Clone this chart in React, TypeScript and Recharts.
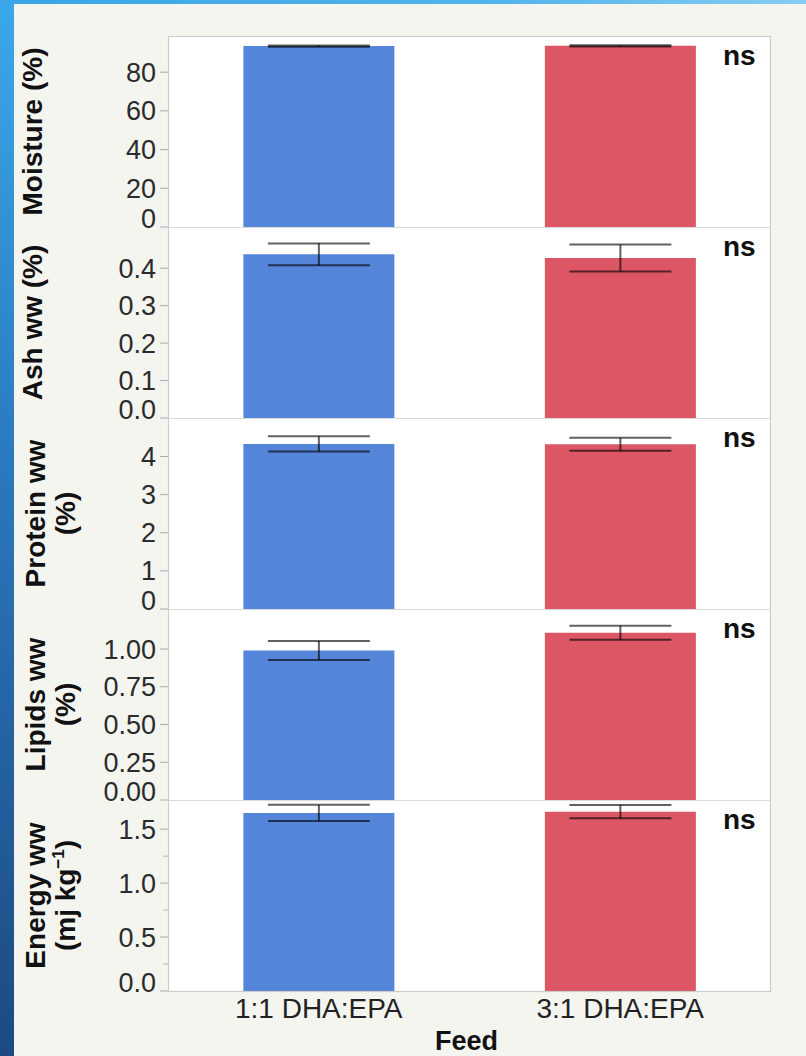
import React from 'react';
import { BarChart, Bar, XAxis, YAxis, ErrorBar, Cell } from 'recharts';

const FEEDS = ['1:1 DHA:EPA', '3:1 DHA:EPA'];
const BAR_COLORS = ['#5585d9', '#dc5666'];

const MOISTURE = [93.5, 93.6];
const MOISTURE_ERR = [0.3, 0.3];
const ASH = [0.437, 0.427];
const ASH_ERR = [0.029, 0.036];
const PROTEIN = [4.33, 4.32];
const PROTEIN_ERR = [0.2, 0.17];
const LIPIDS = [0.99, 1.108];
const LIPIDS_ERR = [0.063, 0.046];
const ENERGY = [1.65, 1.662];
const ENERGY_ERR = [0.075, 0.062];

const MOISTURE_TICKS = [0, 20, 40, 60, 80];
const ASH_TICKS = [0, 0.1, 0.2, 0.3, 0.4];
const PROTEIN_TICKS = [0, 1, 2, 3, 4];
const LIPIDS_TICKS = [0, 0.25, 0.5, 0.75, 1.0];
const ENERGY_TICKS = [0, 0.5, 1.0, 1.5];
const ENERGY_MINOR_TICKS = [0.25, 0.75, 1.25];

const TITLES = [
  ['Moisture (%)'],
  ['Ash ww (%)'],
  ['Protein ww', '(%)'],
  ['Lipids ww', '(%)'],
  ['Energy ww', '(mj kg|−1|)'],
];
const SIG = ['ns', 'ns', 'ns', 'ns', 'ns'];
const X_TITLE = 'Feed';

const FONT = '"Liberation Sans", Arial, Helvetica, sans-serif';

const PLOT_LEFT = 168;
const PLOT_RIGHT = 771;
const PLOT_TOP = 36;
const PANEL_H = 191;
const XAXIS_H = 65;
const EXTRA_BOTTOM = 14;

type Panel = {
  values: number[];
  errs: number[];
  domain: [number, number];
  ticks: number[];
  minor: number[];
  decimals: number;
};

const PANELS: Panel[] = [
  { values: MOISTURE, errs: MOISTURE_ERR, domain: [0, 98.7], ticks: MOISTURE_TICKS, minor: [], decimals: 0 },
  { values: ASH, errs: ASH_ERR, domain: [0, 0.51], ticks: ASH_TICKS, minor: [], decimals: 1 },
  { values: PROTEIN, errs: PROTEIN_ERR, domain: [0, 5.01], ticks: PROTEIN_TICKS, minor: [], decimals: 0 },
  { values: LIPIDS, errs: LIPIDS_ERR, domain: [0, 1.265], ticks: LIPIDS_TICKS, minor: [], decimals: 2 },
  { values: ENERGY, errs: ENERGY_ERR, domain: [0, 1.77], ticks: ENERGY_TICKS, minor: ENERGY_MINOR_TICKS, decimals: 1 },
];

const makeTick = (panel: Panel) => (props: any) => {
  const { y, payload } = props;
  const v = payload.value as number;
  const isMinor = panel.minor.some((m) => Math.abs(m - v) < 1e-9);
  if (isMinor) {
    return (
      <g>
        <line x1={PLOT_LEFT - 5} x2={PLOT_LEFT} y1={y} y2={y} stroke="#b5b5b5" strokeWidth={1} />
      </g>
    );
  }
  const dyShift = v === 0 ? -9 : 0;
  return (
    <g>
      <line x1={PLOT_LEFT - 8} x2={PLOT_LEFT} y1={y} y2={y} stroke="#ababab" strokeWidth={1} />
      <text
        x={PLOT_LEFT - 12}
        y={y + dyShift}
        dy="0.355em"
        textAnchor="end"
        fontFamily={FONT}
        fontSize={27}
        fill="#2b2b2b"
      >
        {v.toFixed(panel.decimals)}
      </text>
    </g>
  );
};

const XTick = (props: any) => {
  const { x, y, payload } = props;
  return (
    <text x={x} y={y} dy="0.71em" textAnchor="middle" fontFamily={FONT} fontSize={28} fill="#222">
      {payload.value}
    </text>
  );
};

function PanelChart({ panel, index, last }: { panel: Panel; index: number; last: boolean }) {
  const data = FEEDS.map((f, i) => ({ feed: f, value: panel.values[i], err: panel.errs[i] }));
  const allTicks = [...panel.ticks, ...panel.minor].sort((a, b) => a - b);
  return (
    <div style={{ position: 'absolute', left: 0, top: PLOT_TOP + index * PANEL_H }}>
      <BarChart
        width={806}
        height={PANEL_H + (last ? XAXIS_H : EXTRA_BOTTOM)}
        data={data}
        margin={{ top: 0, right: 806 - PLOT_RIGHT, bottom: last ? 0 : EXTRA_BOTTOM, left: 0 }}
        barCategoryGap="25%"
      >
        <XAxis
          dataKey="feed"
          hide={!last}
          height={last ? XAXIS_H : 0}
          axisLine={false}
          tickLine={false}
          tickSize={0}
          tickMargin={7}
          tick={<XTick />}
          interval={0}
        />
        <YAxis
          width={PLOT_LEFT}
          domain={panel.domain}
          ticks={allTicks}
          interval={0}
          axisLine={false}
          tickLine={false}
          tick={makeTick(panel)}
          allowDataOverflow
        />
        <Bar dataKey="value" isAnimationActive={false}>
          {data.map((d, i) => (
            <Cell key={d.feed} fill={BAR_COLORS[i]} />
          ))}
          <ErrorBar
            dataKey="err"
            width={51}
            stroke="#000"
            strokeOpacity={0.62}
            strokeWidth={2}
            direction="y"
            isAnimationActive={false}
          />
        </Bar>
      </BarChart>
    </div>
  );
}

function TitleText({ lines, cy }: { lines: string[]; cy: number }) {
  const baselines = lines.length === 1 ? [42] : [45, 75];
  return (
    <>
      {lines.map((line, i) => {
        const parts = line.split('|');
        return (
          <text
            key={i}
            transform={`translate(${baselines[i]}, ${cy}) rotate(-90)`}
            textAnchor="middle"
            fontFamily={FONT}
            fontWeight="bold"
            fontSize={28}
            fill="#111"
          >
            {parts.length === 1 ? (
              line
            ) : (
              <>
                <tspan>{parts[0]}</tspan>
                <tspan fontSize={17} dy={-11}>{parts[1]}</tspan>
                <tspan dy={11}>{parts[2]}</tspan>
              </>
            )}
          </text>
        );
      })}
    </>
  );
}

export default function App() {
  const plotBottom = PLOT_TOP + PANEL_H * 5;
  return (
    <div
      style={{
        position: 'absolute',
        left: 0,
        top: 0,
        width: 806,
        height: 1056,
        background: '#f5f5f0',
        overflow: 'hidden',
      }}
    >
      <div
        style={{
          position: 'absolute',
          left: 0,
          top: 0,
          width: 806,
          height: 4,
          background: 'linear-gradient(90deg, #39a5e6 0%, #4fb3ec 60%, #86ccf2 100%)',
        }}
      />
      <div
        style={{
          position: 'absolute',
          left: 0,
          top: 0,
          width: 14,
          height: 1056,
          background: 'linear-gradient(180deg, #3aa8ea 0%, #2a78bd 45%, #1d4a82 100%)',
        }}
      />
      <div
        style={{
          position: 'absolute',
          left: PLOT_LEFT,
          top: PLOT_TOP,
          width: PLOT_RIGHT - PLOT_LEFT,
          height: plotBottom - PLOT_TOP,
          background: '#ffffff',
        }}
      />
      {PANELS.map((p, i) => (
        <PanelChart key={i} panel={p} index={i} last={i === PANELS.length - 1} />
      ))}
      <svg
        width={806}
        height={1056}
        style={{ position: 'absolute', left: 0, top: 0, pointerEvents: 'none' }}
      >
        {[1, 2, 3, 4].map((k) => (
          <line
            key={k}
            x1={PLOT_LEFT}
            x2={PLOT_RIGHT}
            y1={PLOT_TOP + k * PANEL_H + 0.5}
            y2={PLOT_TOP + k * PANEL_H + 0.5}
            stroke="#dadada"
            strokeWidth={1}
          />
        ))}
        <rect
          x={PLOT_LEFT + 0.5}
          y={PLOT_TOP + 0.5}
          width={PLOT_RIGHT - PLOT_LEFT - 1}
          height={plotBottom - PLOT_TOP}
          fill="none"
          stroke="#cccccc"
          strokeWidth={1.2}
        />
        {TITLES.map((lines, i) => (
          <TitleText key={i} lines={lines} cy={PLOT_TOP + i * PANEL_H + PANEL_H / 2} />
        ))}
        {SIG.map((s, i) => (
          <text
            key={i}
            x={723}
            y={PLOT_TOP + i * PANEL_H + 29}
            fontFamily={FONT}
            fontWeight="bold"
            fontSize={28}
            fill="#111"
          >
            {s}
          </text>
        ))}
        <text
          x={(PLOT_LEFT + PLOT_RIGHT) / 2 - 3}
          y={1050}
          textAnchor="middle"
          fontFamily={FONT}
          fontWeight="bold"
          fontSize={27}
          fill="#111"
        >
          {X_TITLE}
        </text>
      </svg>
    </div>
  );
}
